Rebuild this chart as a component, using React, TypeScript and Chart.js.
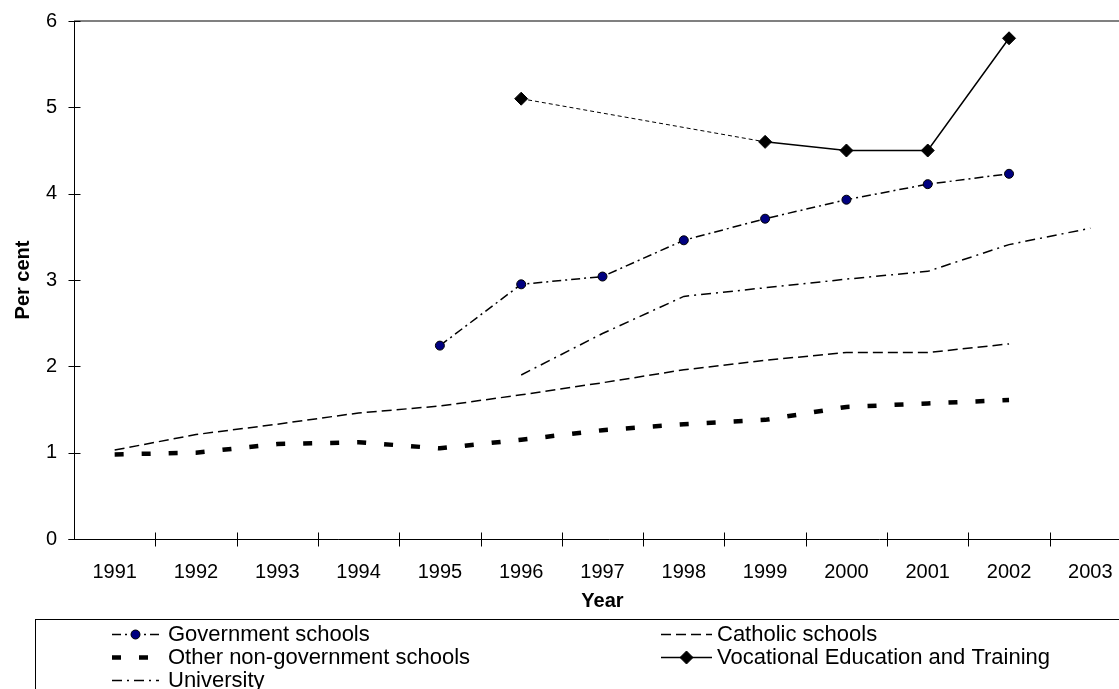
import React, { useEffect, useRef } from "react";
import { Chart, registerables } from "chart.js";

Chart.register(...registerables);

// ---- data -------------------------------------------------------------
const YEARS = ["1991", "1992", "1993", "1994", "1995", "1996", "1997", "1998", "1999", "2000", "2001", "2002", "2003"];

const GOVERNMENT = [null, null, null, null, 2.24, 2.95, 3.04, 3.46, 3.71, 3.93, 4.11, 4.23, null];
const CATHOLIC = [1.03, 1.21, 1.33, 1.46, 1.54, 1.67, 1.81, 1.96, 2.07, 2.16, 2.16, 2.26, null];
const OTHER_NON_GOVT = [0.98, 1.0, 1.1, 1.12, 1.05, 1.15, 1.26, 1.33, 1.38, 1.53, 1.57, 1.61, null];
const VET = [null, null, null, null, null, 5.1, null, null, 4.6, 4.5, 4.5, 5.8, null];
const UNIVERSITY = [null, null, null, null, null, 1.9, 2.38, 2.81, 2.91, 3.01, 3.1, 3.41, 3.6];

const Y_TICKS = [0, 1, 2, 3, 4, 5, 6];

const FONT = "'Liberation Sans', Arial, Helvetica, sans-serif";

// canvas is a little wider than the visible page; the frame clips the right edge
const CANVAS_W = 1150;
const CANVAS_H = 689;

// axis lines, crossing tick marks and the grey top border of the plot area
const framePlugin = {
  id: "frame",
  beforeDatasetsDraw(chart: any) {
    const { ctx, chartArea, scales } = chart;
    const xs = scales.x;
    const ys = scales.y;
    ctx.save();

    const yTop = ys.getPixelForValue(Y_TICKS[Y_TICKS.length - 1]);
    ctx.strokeStyle = "#808080";
    ctx.lineWidth = 2;
    ctx.beginPath();
    ctx.moveTo(chartArea.left, yTop);
    ctx.lineTo(chart.width, yTop);
    ctx.stroke();

    const left = Math.round(chartArea.left) + 0.5;
    const bottom = Math.round(ys.getPixelForValue(0)) + 0.5;
    ctx.strokeStyle = "#000";
    ctx.lineWidth = 1;
    ctx.beginPath();
    ctx.moveTo(left, Math.round(yTop));
    ctx.lineTo(left, bottom);
    ctx.moveTo(left - 6, bottom);
    ctx.lineTo(chart.width, bottom);
    ctx.stroke();

    // y tick marks cross the axis
    ctx.beginPath();
    Y_TICKS.forEach((v) => {
      const py = Math.round(ys.getPixelForValue(v)) + 0.5;
      ctx.moveTo(left - 6, py);
      ctx.lineTo(left + 6, py);
    });
    // x tick marks sit between categories
    for (let i = 0; i < YEARS.length; i++) {
      const a = xs.getPixelForValue(i);
      const b = i + 1 < YEARS.length ? xs.getPixelForValue(i + 1) : a + (a - xs.getPixelForValue(i - 1));
      const px = Math.round((a + b) / 2) + 0.5;
      ctx.moveTo(px, bottom - 7);
      ctx.lineTo(px, bottom + 7);
    }
    ctx.stroke();
    ctx.restore();
  },
};

function drawMarker(ctx: CanvasRenderingContext2D, ds: any, x: number, y: number) {
  const style = ds.pointStyle;
  const r = ds.pointRadius;
  if (!r) return;
  ctx.save();
  ctx.setLineDash([]);
  ctx.fillStyle = ds.pointBackgroundColor;
  ctx.strokeStyle = ds.pointBorderColor;
  ctx.lineWidth = ds.pointBorderWidth;
  ctx.beginPath();
  if (style === "rectRot") {
    ctx.moveTo(x, y - r);
    ctx.lineTo(x + r, y);
    ctx.lineTo(x, y + r);
    ctx.lineTo(x - r, y);
    ctx.closePath();
  } else {
    ctx.arc(x, y, r, 0, Math.PI * 2);
  }
  ctx.fill();
  ctx.stroke();
  ctx.restore();
}

// boxed two-column legend below the x-axis title
const legendPlugin = {
  id: "boxLegend",
  afterDraw(chart: any) {
    const { ctx } = chart;
    const datasets = chart.data.datasets;
    const boxLeft = 35.5;
    const boxTop = 619.5;
    const rowY = [634, 657, 680];
    const cols = [
      { x0: 112, x1: 159, tx: 168 },
      { x0: 661, x1: 712, tx: 717 },
    ];
    ctx.save();
    ctx.strokeStyle = "#000";
    ctx.lineWidth = 1;
    ctx.strokeRect(boxLeft, boxTop, chart.width, 200);

    ctx.font = `22px ${FONT}`;
    ctx.textBaseline = "middle";
    ctx.fillStyle = "#000";
    datasets.forEach((ds: any, i: number) => {
      const col = cols[i % 2];
      const y = rowY[Math.floor(i / 2)];
      ctx.save();
      ctx.strokeStyle = ds.borderColor;
      ctx.lineWidth = ds.borderWidth;
      ctx.lineCap = "butt";
      ctx.setLineDash(ds.borderDash || []);
      ctx.beginPath();
      ctx.moveTo(col.x0, y + 0.5);
      ctx.lineTo(col.x1, y + 0.5);
      ctx.stroke();
      ctx.restore();
      drawMarker(ctx, ds, (col.x0 + col.x1) / 2, y + 0.5);
      ctx.fillText(ds.label, col.tx, y + 1);
    });
    ctx.restore();
  },
};

// a segment that bridges missing years is drawn thin and dotted
const spansGap = (data: (number | null)[]) => (c: any) => data[c.p1DataIndex - 1] == null;

export default function App() {
  const canvasRef = useRef<HTMLCanvasElement | null>(null);

  useEffect(() => {
    document.body.style.margin = "0";
    const canvas = canvasRef.current;
    if (!canvas) return;

    const vetGap = spansGap(VET);

    const chart = new Chart(canvas, {
      type: "line",
      data: {
        labels: YEARS,
        datasets: [
          {
            label: "Government schools",
            data: GOVERNMENT,
            borderColor: "#000",
            borderWidth: 1.5,
            borderDash: [9, 4, 2, 4],
            pointStyle: "circle",
            pointRadius: 4.5,
            pointBackgroundColor: "#000080",
            pointBorderColor: "#000",
            pointBorderWidth: 1,
          },
          {
            label: "Catholic schools",
            data: CATHOLIC,
            borderColor: "#000",
            borderWidth: 1.5,
            borderDash: [10, 5],
            pointRadius: 0,
          },
          {
            label: "Other non-government schools",
            data: OTHER_NON_GOVT,
            borderColor: "#000",
            borderWidth: 4.5,
            borderDash: [9, 18],
            borderCapStyle: "butt",
            pointRadius: 0,
          },
          {
            label: "Vocational Education and Training",
            data: VET,
            borderColor: "#000",
            borderWidth: 1.5,
            spanGaps: true,
            segment: {
              borderDash: (c: any) => (vetGap(c) ? [4, 3] : undefined),
              borderWidth: (c: any) => (vetGap(c) ? 1 : undefined),
            },
            pointStyle: "rectRot",
            pointRadius: 6.5,
            pointBackgroundColor: "#000",
            pointBorderColor: "#000",
            pointBorderWidth: 1,
          },
          {
            label: "University",
            data: UNIVERSITY,
            borderColor: "#000",
            borderWidth: 1.5,
            borderDash: [10, 5, 2, 5],
            pointRadius: 0,
          },
        ] as any,
      },
      options: {
        responsive: false,
        animation: false,
        devicePixelRatio: 1,
        layout: { autoPadding: false, padding: { left: 0, top: 21, right: CANVAS_W - 1131, bottom: 70 } },
        elements: { line: { tension: 0 } },
        plugins: { legend: { display: false }, tooltip: { enabled: false } },
        scales: {
          x: {
            type: "category",
            offset: true,
            grid: { display: false, drawTicks: false },
            border: { display: false },
            ticks: {
              color: "#000",
              font: { family: FONT, size: 20 },
              padding: 21,
              maxRotation: 0,
              autoSkip: false,
            },
            title: {
              display: true,
              text: "Year",
              color: "#000",
              font: { family: FONT, size: 20, weight: "bold" },
              padding: { top: 0, bottom: 6 },
            },
            afterFit: (s: any) => {
              s.height = 80;
              s.paddingLeft = 0;
              s.paddingRight = 0;
            },
          },
          y: {
            min: 0,
            max: 6,
            grid: { display: false, drawTicks: false },
            border: { display: false },
            ticks: {
              stepSize: 1,
              color: "#000",
              font: { family: FONT, size: 20 },
              padding: 17,
            },
            title: {
              display: true,
              text: "Per cent",
              color: "#000",
              font: { family: FONT, size: 20, weight: "bold" },
              padding: { top: 11, bottom: 0 },
            },
            afterFit: (s: any) => {
              s.width = 74;
              s.paddingTop = 0;
              s.paddingBottom = 0;
            },
          },
        },
      },
      plugins: [framePlugin, legendPlugin],
    });

    return () => chart.destroy();
  }, []);

  return (
    <div style={{ width: 1119, height: 689, overflow: "hidden", position: "relative", background: "#fff" }}>
      <canvas ref={canvasRef} width={CANVAS_W} height={CANVAS_H} style={{ display: "block" }} />
    </div>
  );
}
